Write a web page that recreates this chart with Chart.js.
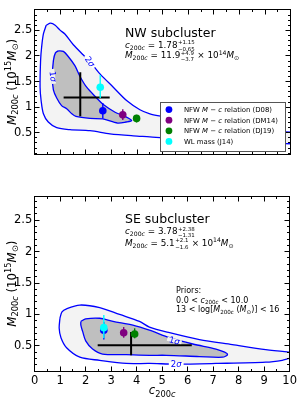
<!DOCTYPE html>
<html>
<head>
<meta charset="utf-8">
<script src="https://cdn.jsdelivr.net/npm/chart.js@4.4.1/dist/chart.umd.min.js"></script>
<style>
  body { margin: 0; background: #fff; overflow: hidden; }
  #wrap { position: relative; width: 300px; height: 401px; }
  canvas { position: absolute; left: 0; }
</style>
</head>
<body>
<div id="wrap">
  <canvas id="nw" width="300" height="190" style="top:0"></canvas>
  <canvas id="se" width="300" height="214" style="top:187px"></canvas>
</div>
<script>
// ---- data (c200c, M200c in 1e15 Msun) ----
var sourceLabels = ['NFW $M$ − $c$ relation (D08)', 'NFW $M$ − $c$ relation (DM14)',
                    'NFW $M$ − $c$ relation (DJ19)', 'WL mass (J14)'];
var sourceColors = ['#0000ff', '#800080', '#008000', '#00ffff'];

var nwConc   = [2.66, 3.44, 3.98, 2.56];
var nwMass   = [0.93, 0.85, 0.78, 1.39];
var nwMassLo = [0.78, 0.75, 0.70, 1.18];
var nwMassHi = [1.08, 0.96, 0.85, 1.63];

var seConc   = [2.71, 3.49, 3.92, 2.71];
var seMass   = [0.75, 0.71, 0.69, 0.79];
var seMassLo = [0.60, 0.63, 0.62, 0.62];
var seMassHi = [0.88, 0.80, 0.78, 0.99];

// best fit: [low, value, high]
var nwFitC = [1.13, 1.78, 2.93];
var nwFitM = [0.82, 1.19, 1.68];
var seFitC = [2.47, 3.78, 6.16];
var seFitM = [0.35, 0.51, 0.72];

// credible contours, [c, M] round the outline
var nwSigma2 = [[0.45,2.60],[0.62,2.64],[0.8,2.6],[1.0,2.5],[1.18,2.43],[1.51,2.22],[1.90,2.02],
  [2.16,1.89],[2.55,1.65],[3.07,1.39],[3.59,1.13],[4.11,0.95],[4.50,0.87],[4.96,0.82],[6,0.72],
  [7,0.64],[8,0.58],[9,0.53],[10.5,0.48],[10.5,0.30],[9,0.31],[8,0.33],[7,0.35],[6,0.37],[5,0.40],
  [4.5,0.42],[3.85,0.44],[2.94,0.48],[2.16,0.54],[1.38,0.56],[0.86,0.60],[0.53,0.71],[0.34,0.87],
  [0.25,1.13],[0.21,1.39],[0.23,1.91],[0.27,2.17],[0.34,2.43],[0.45,2.60]];
var nwSigma1 = [[0.92,2.10],[1.12,2.09],[1.31,1.99],[1.57,1.81],[1.77,1.60],[2.03,1.39],[2.42,1.18],
  [2.68,1.05],[3.14,0.90],[3.53,0.82],[3.79,0.74],[3.57,0.71],[3.24,0.69],[2.66,0.77],[2.16,0.78],
  [1.61,0.82],[1.45,0.87],[1.25,0.97],[1.05,1.03],[0.86,1.18],[0.73,1.34],[0.69,1.60],[0.73,1.91],
  [0.81,2.06],[0.92,2.10]];
var seSigma2 = [[0.99,0.94],[1.07,1.04],[1.25,1.09],[1.77,1.15],[2.55,1.11],[3.33,1.0],[4.11,0.89],
  [4.5,0.8],[5.29,0.71],[6.46,0.60],[7.75,0.52],[9.06,0.44],[10.0,0.40],[10.6,0.38],[10.6,0.31],
  [10,0.30],[9.71,0.27],[9.06,0.24],[7.11,0.22],[5.55,0.21],[4.5,0.22],[3.59,0.22],[2.55,0.27],
  [1.77,0.32],[1.25,0.47],[1.03,0.63],[0.96,0.78],[0.99,0.94]];
var seSigma1 = [[1.81,0.89],[2.00,0.93],[2.55,0.94],[3.07,0.89],[3.85,0.83],[4.5,0.75],[5.29,0.63],
  [6.2,0.53],[7.11,0.45],[7.45,0.40],[7.56,0.36],[7.37,0.32],[6.46,0.33],[5.16,0.35],[4.5,0.35],
  [3.59,0.36],[2.66,0.37],[2.27,0.45],[2.0,0.58],[1.88,0.73],[1.81,0.83],[1.81,0.89]];

var xRange = [0, 10], xStep = 1, xMinor = 0.5;
var yStep = 0.5, yMinor = 0.1;

// ---- text helpers (mathtext-ish) ----
var FAM = '"DejaVu Sans", "Liberation Sans", sans-serif';
function fnt(s, it) { return (it ? 'oblique ' : '') + s + 'px ' + FAM; }
function N(t, s) { return {t: t, s: s}; }
function I(t, s) { return {t: t, s: s, i: true}; }
function SUB(t, s, it) { return {t: t, s: s * 0.7, i: it, dy: s * 0.22}; }
function SUP(t, s) { return {t: t, s: s * 0.7, dy: -s * 0.4}; }
function PM(hi, lo, s) { return {hi: hi, lo: lo, s: s * 0.62, up: -s * 0.42, dn: s * 0.32}; }
function sub200c(s) { return [SUB('200', s), SUB('c', s, true)]; }

function runW(ctx, r) {
  if (r.hi !== undefined) {
    ctx.font = fnt(r.s);
    return Math.max(ctx.measureText(r.hi).width, ctx.measureText(r.lo).width) + 1;
  }
  ctx.font = fnt(r.s, r.i);
  return ctx.measureText(r.t).width;
}
function drawRuns(ctx, x, y, runs, align) {
  var ws = runs.map(function (r) { return runW(ctx, r); });
  var tot = ws.reduce(function (a, b) { return a + b; }, 0);
  var cx = align === 'center' ? x - tot / 2 : x;
  ctx.textAlign = 'left';
  ctx.textBaseline = 'alphabetic';
  runs.forEach(function (r, k) {
    if (r.hi !== undefined) {
      ctx.font = fnt(r.s);
      ctx.fillText(r.hi, cx + 0.5, y + r.up);
      ctx.fillText(r.lo, cx + 0.5, y + r.dn);
    } else {
      ctx.font = fnt(r.s, r.i);
      ctx.fillText(r.t, cx, y + (r.dy || 0));
    }
    cx += ws[k];
  });
  return tot;
}
function parseLabel(str, s) {
  return str.split('$').map(function (t, k) { return k % 2 ? I(t, s) : N(t, s); });
}

// ---- panel settings ----
var TS = 8.8;
var panels = {
  nw: {
    texts: [
      {dx: 90.3, dy: 28, runs: [N('NW subcluster', 12.5)]},
      {dx: 90.3, dy: 38.5, runs: [I('c', TS)].concat(sub200c(TS), [N(' = 1.78', TS), PM('+1.15', '−0.65', TS)])},
      {dx: 90.3, dy: 49, runs: [I('M', TS)].concat(sub200c(TS), [N(' = 11.9', TS), PM('+4.9', '−3.7', TS),
        N(' × 10', TS), SUP('14', TS), I('M', TS), SUB('⊙', TS)])}
    ],
    clabels: [{c: 2.16, m: 1.89, rot: 0.95, n: '2', bg: '#ffffff'},
              {c: 0.72, m: 1.60, rot: 1.45, n: '1', bg: '#f3f3f3'}],
    legend: true, xlabel: false
  },
  se: {
    texts: [
      {dx: 90.3, dy: 27, runs: [N('SE subcluster', 12.5)]},
      {dx: 90.3, dy: 38, runs: [I('c', TS)].concat(sub200c(TS), [N(' = 3.78', TS), PM('+2.38', '−1.31', TS)])},
      {dx: 90.3, dy: 49.5, runs: [I('M', TS)].concat(sub200c(TS), [N(' = 5.1', TS), PM('+2.1', '−1.6', TS),
        N(' × 10', TS), SUP('14', TS), I('M', TS), SUB('⊙', TS)])},
      {dx: 141.3, dy: 96.8, runs: [N('Priors:', 8)]},
      {dx: 141.3, dy: 106.2, runs: [N('0.0 < ', 8), I('c', 8)].concat(sub200c(8), [N(' < 10.0', 8)])},
      {dx: 141.3, dy: 115.5, runs: [N('13 < log[', 8), I('M', 8)].concat(sub200c(8),
        [N(' (', 8), I('M', 8), SUB('⊙', 8), N(')] < 16', 8)])}
    ],
    clabels: [{c: 5.48, m: 0.585, rot: 0.25, n: '1', bg: '#f3f3f3'},
              {c: 5.55, m: 0.21, rot: 0, n: '2', bg: '#ffffff'}],
    legend: false, xlabel: true
  }
};

function px(v) { return Math.floor(v) + 0.5; }

var deco = {
  id: 'deco',
  beforeDatasetDraw: function (chart, args) {
    var ds = chart.data.datasets[args.index];
    if (!ds.errLo) return;
    var ctx = chart.ctx, x = chart.scales.x, y = chart.scales.y;
    ctx.save();
    ctx.strokeStyle = ds.pointBackgroundColor;
    ctx.lineWidth = 1.4;
    ds.data.forEach(function (p, k) {
      var xx = x.getPixelForValue(p.x);
      ctx.beginPath();
      ctx.moveTo(xx, y.getPixelForValue(ds.errLo[k]));
      ctx.lineTo(xx, y.getPixelForValue(ds.errHi[k]));
      ctx.stroke();
    });
    ctx.restore();
  },
  afterDatasetsDraw: function (chart) {
    var p = panels[chart.canvas.id];
    var ctx = chart.ctx, x = chart.scales.x, y = chart.scales.y;
    p.clabels.forEach(function (l) {
      var runs = [N(l.n, 8.5), I('σ', 8.5)];
      ctx.save();
      ctx.translate(x.getPixelForValue(l.c), y.getPixelForValue(l.m));
      ctx.rotate(l.rot);
      var w = runs.reduce(function (a, r) { return a + runW(ctx, r); }, 0);
      ctx.fillStyle = l.bg;
      ctx.fillRect(-w / 2 - 2, -2, w + 4, 4);
      ctx.fillStyle = '#0000ff';
      drawRuns(ctx, 0, 3, runs, 'center');
      ctx.restore();
    });
  },
  afterDraw: function (chart) {
    var p = panels[chart.canvas.id];
    var ctx = chart.ctx, a = chart.chartArea, x = chart.scales.x, y = chart.scales.y;
    ctx.save();
    // frame and inward ticks on all sides
    var L = px(a.left), R = px(a.right), T = px(a.top), B = px(a.bottom);
    ctx.strokeStyle = '#000';
    ctx.lineWidth = 1;
    ctx.strokeRect(L, T, R - L, B - T);
    function seg(x1, y1, x2, y2) { ctx.beginPath(); ctx.moveTo(x1, y1); ctx.lineTo(x2, y2); ctx.stroke(); }
    var k, v, len, q;
    for (k = Math.ceil(x.min / xMinor - 1e-6); k * xMinor <= x.max + 1e-9; k++) {
      v = k * xMinor;
      len = Math.abs(v / xStep - Math.round(v / xStep)) < 1e-6 ? 5 : 2.5;
      q = px(x.getPixelForValue(v));
      seg(q, B, q, B - len); seg(q, T, q, T + len);
    }
    for (k = Math.ceil(y.min / yMinor - 1e-6); k * yMinor <= y.max + 1e-9; k++) {
      v = k * yMinor;
      len = Math.abs(v / yStep - Math.round(v / yStep)) < 1e-6 ? 5 : 2.5;
      q = px(y.getPixelForValue(v));
      seg(L, q, L + len, q); seg(R, q, R - len, q);
    }
    // annotation texts
    ctx.fillStyle = '#000';
    p.texts.forEach(function (t) { drawRuns(ctx, a.left + t.dx, a.top + t.dy, t.runs); });
    // y title
    ctx.save();
    ctx.translate(11.5, (a.top + a.bottom) / 2);
    ctx.rotate(-Math.PI / 2);
    drawRuns(ctx, 0, 4, [I('M', 11.8)].concat(sub200c(11.8),
      [N(' (10', 11.8), SUP('15', 11.8), I('M', 11.8), SUB('⊙', 11.8), N(')', 11.8)]), 'center');
    ctx.restore();
    if (p.xlabel) {
      drawRuns(ctx, (a.left + a.right) / 2, a.bottom + 23, [I('c', 11.8)].concat(sub200c(11.8)), 'center');
    }
    // legend
    if (p.legend) {
      var items = chart.data.datasets.filter(function (d) { return d.label; });
      var fs = 6.9, rowH = 10.6;
      var widths = items.map(function (d) {
        return parseLabel(d.label, fs).reduce(function (s, r) { return s + runW(ctx, r); }, 0);
      });
      var bw = 23.3 + Math.max.apply(null, widths) + 8;
      var bh = 8 + items.length * rowH - 1;
      var bx = a.right - 4.7 - bw, by = a.bottom - 2.8 - bh;
      ctx.fillStyle = '#ffffff';
      ctx.fillRect(bx, by, bw, bh);
      ctx.strokeStyle = '#555';
      ctx.lineWidth = 1;
      ctx.strokeRect(px(bx), px(by), Math.round(bw), Math.round(bh));
      items.forEach(function (d, i) {
        var cy = by + 7.3 + i * rowH;
        ctx.fillStyle = d.pointBackgroundColor;
        ctx.beginPath();
        ctx.arc(bx + 8.3, cy, 3.4, 0, Math.PI * 2);
        ctx.fill();
        ctx.fillStyle = '#000';
        drawRuns(ctx, bx + 23.3, cy + 2.6, parseLabel(d.label, fs));
      });
    }
    ctx.restore();
  }
};

function contourSet(pts, fill, order) {
  return {
    data: pts.map(function (p) { return {x: p[0], y: p[1]}; }),
    borderColor: '#0000ff', borderWidth: 1.3, backgroundColor: fill,
    fill: 'shape', tension: 0.3, pointRadius: 0, order: order
  };
}
function crossSet(pts) {
  return {data: pts, borderColor: '#000', borderWidth: 2, pointRadius: 0, fill: false, order: 8};
}

function makePanel(id, o) {
  var datasets = [
    contourSet(o.sigma2, '#f3f3f3', 10),
    contourSet(o.sigma1, '#bfbfbf', 9),
    crossSet([{x: o.fitC[0], y: o.fitM[1]}, {x: o.fitC[2], y: o.fitM[1]}]),
    crossSet([{x: o.fitC[1], y: o.fitM[0]}, {x: o.fitC[1], y: o.fitM[2]}])
  ];
  sourceLabels.forEach(function (lab, k) {
    datasets.push({
      label: lab,
      data: [{x: o.conc[k], y: o.mass[k]}],
      errLo: [o.massLo[k]], errHi: [o.massHi[k]],
      showLine: false, pointRadius: 3.8, pointHoverRadius: 3.8, pointBorderWidth: 0,
      pointBackgroundColor: sourceColors[k], borderColor: sourceColors[k], order: 4 - k
    });
  });
  return new Chart(document.getElementById(id), {
    type: 'line',
    data: {datasets: datasets},
    options: {
      responsive: false, animation: false, devicePixelRatio: 1,
      layout: {padding: o.pad},
      plugins: {legend: {display: false}, tooltip: {enabled: false}},
      scales: {
        x: {
          type: 'linear', min: xRange[0], max: xRange[1], display: o.showX,
          grid: {display: false, drawTicks: false}, border: {display: false},
          ticks: {stepSize: xStep, autoSkip: false, maxRotation: 0, padding: 3, color: '#000',
                  font: {family: FAM, size: 11.5}},
          afterFit: function (s) { s.height = 30; }
        },
        y: {
          type: 'linear', min: o.yMin, max: o.yMax,
          grid: {display: false, drawTicks: false}, border: {display: false},
          ticks: {stepSize: yStep, includeBounds: false, autoSkip: false, padding: 2.5, color: '#000',
                  font: {family: FAM, size: 11.5},
                  callback: function (v) { return String(+v.toFixed(2)); }},
          afterFit: function (s) { s.width = 34.7; }
        }
      }
    },
    plugins: [deco]
  });
}

makePanel('nw', {
  sigma2: nwSigma2, sigma1: nwSigma1, fitC: nwFitC, fitM: nwFitM,
  conc: nwConc, mass: nwMass, massLo: nwMassLo, massHi: nwMassHi,
  yMin: 0.075, yMax: 2.91, showX: false,
  pad: {left: 0, right: 9.3, top: 3, bottom: 5.5}
});
makePanel('se', {
  sigma2: seSigma2, sigma1: seSigma1, fitC: seFitC, fitM: seFitM,
  conc: seConc, mass: seMass, massLo: seMassLo, massHi: seMassHi,
  yMin: 0.1, yMax: 2.88, showX: true,
  pad: {left: 0, right: 9.3, top: 3.5, bottom: 0}
});
</script>
</body>
</html>
